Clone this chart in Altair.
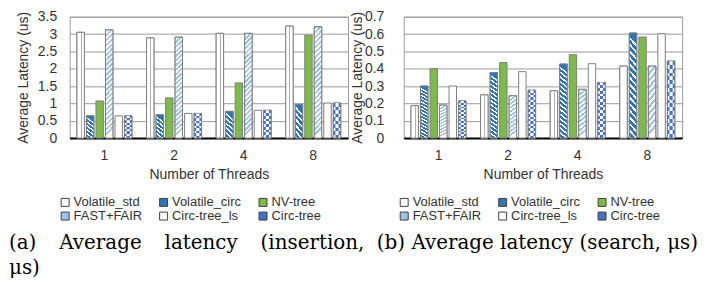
import altair as alt
import pandas as pd

# ---------------- data ----------------
threads = ["1", "2", "4", "8"]
series = ["Volatile_std", "Volatile_circ", "NV-tree", "FAST+FAIR", "Circ-tree_ls", "Circ-tree"]

# (a) insertion latency, us
ins_volatile_std = [3.05, 2.89, 3.02, 3.23]
ins_volatile_circ = [0.64, 0.67, 0.77, 0.97]
ins_nv_tree = [1.07, 1.16, 1.59, 2.97]
ins_fast_fair = [3.12, 2.91, 3.02, 3.21]
ins_circ_tree_ls = [0.64, 0.71, 0.80, 1.01]
ins_circ_tree = [0.64, 0.71, 0.80, 1.01]

# (b) search latency, us
srch_volatile_std = [0.187, 0.249, 0.273, 0.415]
srch_volatile_circ = [0.300, 0.378, 0.427, 0.606]
srch_nv_tree = [0.400, 0.436, 0.481, 0.583]
srch_fast_fair = [0.190, 0.244, 0.281, 0.415]
srch_circ_tree_ls = [0.300, 0.383, 0.429, 0.602]
srch_circ_tree = [0.214, 0.276, 0.321, 0.444]

ins_ticks = [0, 0.5, 1, 1.5, 2, 2.5, 3, 3.5]
srch_ticks = [0, 0.1, 0.2, 0.3, 0.4, 0.5, 0.6, 0.7]

GAP = "\u00a0\u00a0\u00a0\u2009"
caption_a = ["(a)" + GAP + "Average" + GAP + "latency" + GAP + "(insertion,", "\u03bcs)"]
caption_b = "(b) Average latency (search, \u03bcs)"


def table(cols):
    rows = []
    for s, vals in zip(series, cols):
        for t, v in zip(threads, vals):
            rows.append({"threads": t, "series": s, "value": v})
    return pd.DataFrame(rows)


df_ins = table([ins_volatile_std, ins_volatile_circ, ins_nv_tree,
                ins_fast_fair, ins_circ_tree_ls, ins_circ_tree])
df_srch = table([srch_volatile_std, srch_volatile_circ, srch_nv_tree,
                 srch_fast_fair, srch_circ_tree_ls, srch_circ_tree])

# ---------------- styles ----------------
BLUE = "#2E75B6"
LIGHT_BLUE = "#9DC3E6"
CHECK_BLUE = "#4472C4"
GREEN = "#7DBB48"
WHITE = "#FFFFFF"
legend_colors = [WHITE, BLUE, GREEN, LIGHT_BLUE, WHITE, CHECK_BLUE]
TEXT = "#333333"
OUTLINE = "#7F7F7F"


def stripes(c1, c2, n, frac, x1, y1, x2, y2):
    stops = []
    for i in range(n):
        a = round(i / n, 5)
        b = round((i + frac) / n, 5)
        c = round((i + 1) / n, 5)
        stops += [alt.GradientStop(offset=a, color=c1), alt.GradientStop(offset=b, color=c1),
                  alt.GradientStop(offset=b, color=c2), alt.GradientStop(offset=c, color=c2)]
    return alt.LinearGradient(gradient="linear", stops=stops, x1=x1, y1=y1, x2=x2, y2=y2)


def dotted_line():
    return alt.LinearGradient(gradient="linear", x1=0, y1=0, x2=1, y2=0, stops=[
        alt.GradientStop(offset=0, color=WHITE), alt.GradientStop(offset=0.5, color=WHITE),
        alt.GradientStop(offset=0.5, color="#B0B0B0"), alt.GradientStop(offset=0.62, color="#B0B0B0"),
        alt.GradientStop(offset=0.62, color=WHITE), alt.GradientStop(offset=1, color=WHITE)])


def panel(df, ymax, ticks, caption, ypad, ytitlepad, pat, legend_x, legend_y, cap_dx):
    x_enc = alt.X("threads:N", sort=threads,
                  scale=alt.Scale(domain=threads, paddingInner=0.21, paddingOuter=0.105),
                  axis=alt.Axis(title="Number of Threads", labelAngle=0, ticks=False,
                                labelPadding=11, titlePadding=5, domainColor="black",
                                domainWidth=2, grid=False))
    xo_enc = alt.XOffset("series:N", sort=series,
                         scale=alt.Scale(domain=series, paddingInner=0.22, paddingOuter=0.0))
    y_enc = alt.Y("value:Q", scale=alt.Scale(domain=[0, ymax], nice=False, zero=True),
                  axis=alt.Axis(title="Average Latency (us)", values=ticks, format="~g",
                                domain=False, ticks=False, grid=True,
                                labelPadding=ypad, titlePadding=ytitlepad))
    base = alt.Chart(df).mark_bar(stroke=OUTLINE, strokeWidth=1).encode(
        x=x_enc, xOffset=xo_enc, y=y_enc,
        fill=alt.Fill("series:N", sort=series,
                      scale=alt.Scale(domain=series, range=legend_colors),
                      legend=alt.Legend(title=None, orient="none", legendX=legend_x,
                                        legendY=legend_y, columns=3, direction="horizontal",
                                        symbolType="square", symbolSize=64,
                                        symbolStrokeColor="#404040", symbolStrokeWidth=1,
                                        labelFont="Liberation Sans", labelFontSize=13,
                                        labelColor=TEXT, labelOffset=2, columnPadding=15,
                                        rowPadding=0, padding=0, labelLimit=200)))

    def over(name, fill, **kw):
        return alt.Chart(df).transform_filter(alt.datum.series == name).mark_bar(
            fill=fill, **kw).encode(x=x_enc, xOffset=xo_enc, y=y_enc)

    layers = [
        base,
        over("Volatile_std", dotted_line(), stroke=OUTLINE, strokeWidth=1),
        over("Volatile_circ", stripes(BLUE, WHITE, pat["vc_n"], 0.6, pat["vc_dx"], 0, 0, 1),
             stroke=OUTLINE, strokeWidth=1),
        over("FAST+FAIR", stripes(LIGHT_BLUE, WHITE, pat["ff_n"], 0.5, 0, 0, pat["ff_dx"], 1),
             stroke=OUTLINE, strokeWidth=1),
        over("Circ-tree", stripes(CHECK_BLUE, WHITE, pat["ct_n"], 0.5, 0, 0, 0, 1),
             stroke=OUTLINE, strokeWidth=1),
        over("Circ-tree", stripes(WHITE, CHECK_BLUE, pat["ct_n"], 0.5, 0, 0, 0, 1),
             strokeWidth=0, width=3.2),
    ]
    return alt.layer(*layers).properties(
        width=280, height=122,
        title=alt.TitleParams(caption, orient="bottom", anchor="start", frame="group",
                              dx=cap_dx, offset=10, font="DejaVu Serif", fontSize=20,
                              fontWeight="normal", color="black", lineHeight=25,
                              baseline="top"))


left = panel(df_ins, 3.5, ins_ticks, caption_a, 13, 7,
             {"vc_n": 6, "vc_dx": 0.25, "ff_n": 22, "ff_dx": 0.07, "ct_n": 5},
             -11, 180, -61)
right = panel(df_srch, 0.7, srch_ticks, caption_b, 20, 0,
              {"vc_n": 16, "vc_dx": 0.08, "ff_n": 11, "ff_dx": 0.12, "ct_n": 10},
              -6, 180, -27)

chart = alt.hconcat(left, right, spacing=56, bounds="flush").resolve_scale(
    fill="independent"
).resolve_legend(fill="independent").properties(
    padding={"left": 0, "top": 0, "right": 0, "bottom": 0}
).configure_view(stroke="#9A9A9A").configure_axis(
    labelFont="Liberation Sans", titleFont="Liberation Sans", labelFontSize=14,
    titleFontSize=14, titleFontWeight="normal", labelColor=TEXT, titleColor=TEXT,
    gridColor="#9A9A9A", gridWidth=1)

chart.save("out.html", embed_options={"renderer": "svg", "actions": False})
